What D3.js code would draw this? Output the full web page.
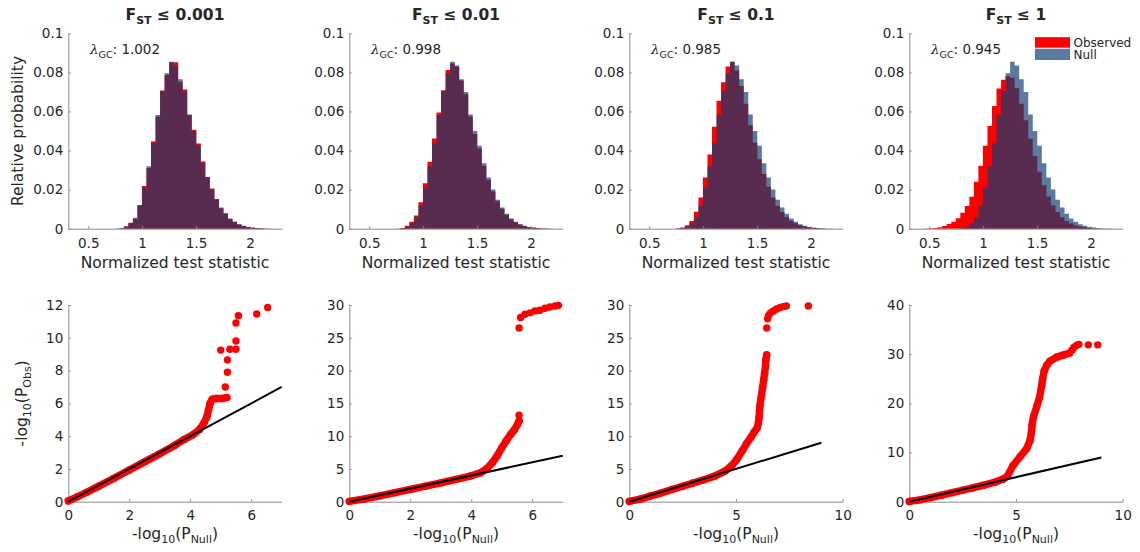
<!DOCTYPE html>
<html>
<head>
<meta charset="utf-8">
<script src="https://cdn.jsdelivr.net/npm/d3@7"></script>
<style>
body { margin: 0; background: #fff; }
text { font-family: "DejaVu Sans", sans-serif; fill: #262626; }
.axis path, .axis line { stroke: #8c8c8c; }
</style>
</head>
<body>
<script>
// ---- data ----
var fstLimits = ["0.001", "0.01", "0.1", "1"];
var lambdaGC = ["1.002", "0.998", "0.985", "0.945"];

// histogram bins: 44 bins of width binWidth starting at binStart
var binStart = 0.41, binWidth = 0.042;
var histXRange = [0.315, 2.294];
var histXTicks = [0.5, 1, 1.5, 2];
var histYTicks = [0, 0.02, 0.04, 0.06, 0.08, 0.1];

var nullProb = [0,0,0,0,0,0,0,0,0.0001,0.0003,0.0010,0.0028,0.0056,0.0118,0.0212,0.0320,0.0437,0.0582,0.0705,0.0795,
  0.0855,0.0835,0.0765,0.0700,0.0585,0.0500,0.0425,0.0335,0.0262,0.0200,0.0148,0.0108,0.0076,0.0052,0.0035,0.0023,
  0.0015,0.0009,0.0006,0.0003,0.0002,0.0001,0.0001,0];
var obsProb1 = [0,0,0,0,0,0,0,0,0,0.0002,0.0012,0.0031,0.0051,0.0121,0.0219,0.0311,0.0446,0.0573,0.0707,0.0786,
  0.0852,0.0852,0.0752,0.0712,0.0582,0.0506,0.0436,0.0344,0.0264,0.0206,0.0152,0.0105,0.0079,0.0050,0.0036,0.0022,
  0.0014,0.0009,0.0005,0.0003,0.0002,0.0001,0,0];
var obsProb2 = [0,0,0,0,0,0,0,0,0,0.0004,0.0015,0.0036,0.0068,0.0135,0.0232,0.0342,0.0462,0.0595,0.0708,0.0812,
  0.0845,0.0830,0.0758,0.0688,0.0574,0.0485,0.0410,0.0322,0.0250,0.0190,0.0140,0.0102,0.0072,0.0049,0.0033,0.0021,
  0.0014,0.0008,0.0005,0.0003,0.0001,0.0001,0,0];
var obsProb3 = [0,0,0,0,0,0,0,0,0.0002,0.0006,0.0018,0.0040,0.0087,0.0160,0.0262,0.0380,0.0522,0.0655,0.0750,0.0830,
  0.0855,0.0810,0.0730,0.0640,0.0530,0.0440,0.0355,0.0280,0.0215,0.0160,0.0118,0.0085,0.0060,0.0041,0.0028,0.0018,
  0.0011,0.0007,0.0004,0.0002,0.0001,0,0,0];
var obsProb4 = [0,0.0001,0.0002,0.0004,0.0008,0.0014,0.0024,0.0036,0.0053,0.0082,0.0116,0.0164,0.0240,0.0322,0.0425,0.0526,0.0628,0.0718,0.0762,0.0780,
  0.0772,0.0720,0.0640,0.0555,0.0460,0.0372,0.0292,0.0222,0.0165,0.0120,0.0085,0.0058,0.0040,0.0026,0.0017,0.0011,
  0.0007,0.0004,0.0002,0.0001,0,0,0,0];
var obsProbs = [obsProb1, obsProb2, obsProb3, obsProb4];

// QQ plots: [-log10(P_Null), -log10(P_Obs)]
var qqXMax = [7, 7, 10, 10];
var qqYMax = [12, 30, 30, 40];
var qqXTicks = [[0,2,4,6], [0,2,4,6], [0,5,10], [0,5,10]];
var qqYTicks = [[0,2,4,6,8,10,12], [0,5,10,15,20,25,30], [0,5,10,15,20,25,30], [0,10,20,30,40]];
var qqLineEnd = [7, 7, 9, 9];

// dense runs of points
var qqBand1 = [[0,0.05],[0.3,0.3],[0.6,0.57],[1,0.95],[1.5,1.43],[2,1.93],[2.5,2.43],[3,2.93],[3.5,3.45],[3.8,3.8],
  [4.1,4.1],[4.3,4.4],[4.45,4.8],[4.55,5.2],[4.6,5.6],[4.65,6.0],[4.72,6.25],[4.85,6.3],[5.05,6.3],[5.2,6.35]];
var qqBand2 = [[0,0.05],[0.5,0.42],[1,0.9],[1.5,1.38],[2,1.87],[2.5,2.37],[3,2.87],[3.5,3.4],[4,3.95],[4.3,4.4],
  [4.5,5.0],[4.7,6.0],[4.85,7.0],[5.0,8.2],[5.15,9.3],[5.3,10.3],[5.42,11.0],[5.52,11.8],[5.57,12.3]];
var qqBand3 = [[0,0.05],[0.5,0.4],[1,0.88],[1.5,1.35],[2,1.85],[2.5,2.35],[3,2.85],[3.5,3.35],[4,3.9],[4.5,4.7],
  [4.8,5.5],[5.03,6.4],[5.3,7.8],[5.5,8.9],[5.7,9.8],[5.85,10.6],[6.0,11.3],[6.05,12.0],[6.08,12.8],[6.1,13.8],
  [6.12,14.6],[6.16,15.6],[6.2,16.4],[6.25,17.5],[6.3,18.6],[6.34,19.6],[6.38,20.6],[6.4,21.6],[6.44,22.4]];
var qqBand4 = [[0,0.05],[0.5,0.38],[1,0.85],[1.5,1.33],[2,1.83],[2.5,2.33],[3,2.85],[3.5,3.38],[4,3.95],[4.4,4.6],
  [4.6,5.2],[4.87,7.4],[5.2,9.2],[5.5,10.8],[5.66,12.5],[5.72,14.0],[5.75,15.5],[5.82,17.3],[5.97,19.3],[6.1,21.2],
  [6.2,23.5],[6.25,25.0],[6.32,26.6],[6.45,27.8],[6.6,28.6],[6.9,29.4],[7.2,29.8],[7.5,30.2]];
// isolated points
var qqTail1 = [[5.15,7.0],[5.22,7.9],[5.22,8.65],[5.0,9.25],[5.3,9.3],[5.5,9.3],[5.5,9.8],[5.5,10.9],[5.58,11.35],[6.18,11.45],[6.54,11.85]];
var qqTail2 = [[5.57,13.2],[5.57,26.5],[5.62,28.1],[5.76,28.6],[5.93,28.8],[6.09,29.1],[6.25,29.2],[6.42,29.5],[6.58,29.7],[6.75,29.85],[6.86,29.95]];
var qqTail3 = [[6.44,26.5],[6.48,27.9],[6.53,28.4],[6.62,28.8],[6.75,29.1],[6.9,29.4],[7.05,29.6],[7.2,29.75],[7.36,29.85],[8.39,29.85]];
var qqTail4 = [[7.62,30.8],[7.72,31.4],[7.85,31.8],[7.95,32.0],[8.39,31.9],[8.83,31.9]];
var qqBands = [qqBand1, qqBand2, qqBand3, qqBand4];
var qqTails = [qqTail1, qqTail2, qqTail3, qqTail4];

// ---- layout ----
var panelLeft = [68.3, 349.3, 629.3, 909.3], panelW = 213.4;
var histBottom = 228.7, histTop = 33.3;
var qqBottom = 501.7, qqTop = 305;
var obsColor = "#ff0000", nullColor = "#103e75", nullAlpha = 0.69;
var dotR = 3.7;
var fmt = d3.format("~g");

var svg = d3.select("body").append("svg")
    .attr("width", 1140).attr("height", 552);

function subText(sel, parts, subSize) {
  // parts: [text, isSub]
  var prevSub = false;
  parts.forEach(function(p) {
    var t = sel.append("tspan").text(p[0]);
    if (p[1] && !prevSub) t.attr("dy", 4).attr("font-size", subSize);
    if (!p[1] && prevSub) t.attr("dy", -4);
    prevSub = p[1];
  });
}

function styleTicks(a) {
  a.selectAll("text").attr("font-size", 13.5).attr("font-family", null);
}

var histY = d3.scaleLinear().domain([0, 0.1]).range([histBottom, histTop]);

fstLimits.forEach(function(lim, i) {
  var x0 = panelLeft[i];
  var hx = d3.scaleLinear().domain(histXRange).range([x0, x0 + panelW]);
  var g = svg.append("g");

  // histogram series as stepped areas
  function series(probs) {
    var pts = probs.map(function(p, k) { return {e: binStart + k * binWidth, p: p}; });
    pts.push({e: binStart + probs.length * binWidth, p: probs[probs.length - 1]});
    return pts;
  }
  var area = d3.area().curve(d3.curveStepAfter)
      .x(function(d) { return hx(d.e); })
      .y0(histY(0))
      .y1(function(d) { return histY(d.p); });

  g.append("path").attr("d", area(series(obsProbs[i]))).attr("fill", obsColor);
  g.append("path").attr("d", area(series(nullProb))).attr("fill", nullColor).attr("fill-opacity", nullAlpha);

  g.append("g").attr("class", "axis")
      .attr("transform", "translate(0," + histBottom + ")")
      .call(d3.axisBottom(hx).tickValues(histXTicks).tickSizeInner(-2.5).tickSizeOuter(0).tickPadding(10)
        .tickFormat(fmt))
      .call(styleTicks);
  g.append("g").attr("class", "axis")
      .attr("transform", "translate(" + x0 + ",0)")
      .call(d3.axisLeft(histY).tickValues(histYTicks).tickSizeInner(-2.5).tickSizeOuter(0).tickPadding(5)
        .tickFormat(fmt))
      .call(styleTicks);

  // title
  var title = g.append("text").attr("x", x0 + panelW / 2).attr("y", 20)
      .attr("text-anchor", "middle").attr("font-size", 15.5).attr("font-weight", "bold");
  subText(title, [["F", false], ["ST", true], [" \u2264 " + lim, false]], 11);

  // lambda annotation
  var lam = g.append("text").attr("x", x0 + 21.7).attr("y", 54).attr("font-size", 13.5);
  lam.append("tspan").text("\u03bb").attr("font-family", "DejaVu Serif").attr("font-style", "italic");
  lam.append("tspan").text("GC").attr("font-size", 9.5).attr("dy", 3.5);
  lam.append("tspan").text(": " + lambdaGC[i]).attr("dy", -3.5);

  g.append("text").attr("x", x0 + panelW / 2).attr("y", 267.5)
      .attr("text-anchor", "middle").attr("font-size", 15.5)
      .text("Normalized test statistic");

  // ---- QQ plot ----
  var qx = d3.scaleLinear().domain([0, qqXMax[i]]).range([x0, x0 + panelW]);
  var qy = d3.scaleLinear().domain([0, qqYMax[i]]).range([qqBottom, qqTop]);

  var q = svg.append("g");
  q.append("g").attr("class", "axis")
      .attr("transform", "translate(0," + qqBottom + ")")
      .call(d3.axisBottom(qx).tickValues(qqXTicks[i]).tickSizeInner(-2.5).tickSizeOuter(0).tickPadding(8.5)
        .tickFormat(fmt))
      .call(styleTicks);
  q.append("g").attr("class", "axis")
      .attr("transform", "translate(" + x0 + ",0)")
      .call(d3.axisLeft(qy).tickValues(qqYTicks[i]).tickSizeInner(-2.5).tickSizeOuter(0).tickPadding(5)
        .tickFormat(fmt))
      .call(styleTicks);

  var band = d3.line()
      .x(function(d) { return qx(d[0]); })
      .y(function(d) { return qy(d[1]); });
  q.append("path").attr("d", band(qqBands[i]))
      .attr("fill", "none").attr("stroke", obsColor).attr("stroke-width", dotR * 2)
      .attr("stroke-linecap", "round").attr("stroke-linejoin", "round");
  q.selectAll("circle.pt").data(qqBands[i].concat(qqTails[i])).enter()
      .append("circle").attr("class", "pt")
      .attr("cx", function(d) { return qx(d[0]); })
      .attr("cy", function(d) { return qy(d[1]); })
      .attr("r", dotR).attr("fill", obsColor);

  q.append("path").attr("d", band([[0, 0], [qqLineEnd[i], qqLineEnd[i]]]))
      .attr("stroke", "#000").attr("stroke-width", 2).attr("fill", "none");

  var xl = q.append("text").attr("x", x0 + panelW / 2).attr("y", 539)
      .attr("text-anchor", "middle").attr("font-size", 15.5);
  subText(xl, [["-log", false], ["10", true], ["(P", false], ["Null", true], [")", false]], 11);
});

// y labels
svg.append("text").attr("transform", "translate(22.5," + (histTop + histBottom) / 2 + ") rotate(-90)")
    .attr("text-anchor", "middle").attr("font-size", 15.5).text("Relative probability");
var yl = svg.append("text").attr("transform", "translate(27," + (qqTop + qqBottom) / 2 + ") rotate(-90)")
    .attr("text-anchor", "middle").attr("font-size", 15.5);
subText(yl, [["-log", false], ["10", true], ["(P", false], ["Obs", true], [")", false]], 11);

// legend in the last histogram
var legend = svg.append("g").attr("transform", "translate(1035,37.2)");
legend.append("rect").attr("width", 35).attr("height", 10.5).attr("fill", obsColor);
legend.append("rect").attr("y", 11.5).attr("width", 35).attr("height", 11.3)
    .attr("fill", nullColor).attr("fill-opacity", nullAlpha);
legend.append("text").attr("x", 38.5).attr("y", 5.3).attr("dy", "0.35em").attr("font-size", 12).text("Observed");
legend.append("text").attr("x", 38.5).attr("y", 17.3).attr("dy", "0.35em").attr("font-size", 12).text("Null");
</script>
</body>
</html>
